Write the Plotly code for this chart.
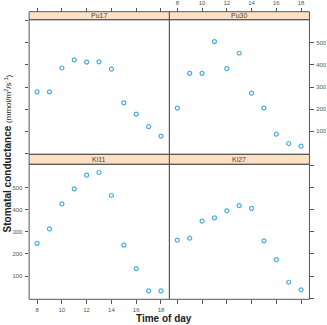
import plotly.graph_objects as go

hours = [8, 9, 10, 11, 12, 13, 14, 15, 16, 17, 18]
panels = ["Pu17", "Pu30", "Ki11", "Ki27"]
pu17 = [278, 278, 386, 423, 413, 414, 381, 228, 177, 120, 77]
pu30 = [204, 362, 362, 506, 383, 453, 272, 204, 86, 44, 32]
ki11 = [248, 313, 426, 494, 556, 568, 464, 240, 134, 33, 33]
ki27 = [262, 271, 348, 363, 395, 418, 406, 259, 174, 72, 38]
xticks = [8, 10, 12, 14, 16, 18]
yticks_all = [0, 100, 200, 300, 400, 500, 600]
yticks_lab = [100, 200, 300, 400, 500]
yticks_end = [0, 600]

W, H = 327, 325
def px(x): return x / W
def py(y): return 1 - y / H

colL, colM, colR = 29.5, 171.5, 313.3
stripT_top, stripB_top = 11.7, 19.7
panelB_top = 154.3
stripB_bot = 164.3
panelB_bot = 299.3

XR = [7.36, 18.68]
YR = [-5, 605]
AX = "#555555"
TICKF = dict(family="Liberation Sans, Arial, sans-serif", size=6, color="#555555")
MC = "#48abe0"

fig = go.Figure()
series = [pu17, pu30, ki11, ki27]
for i, s in enumerate(series):
    fig.add_trace(go.Scatter(
        x=hours, y=s, mode="markers",
        marker=dict(symbol="circle-open", size=4, color=MC, line=dict(width=1.2, color=MC)),
        xaxis="x" if i == 0 else f"x{i+1}", yaxis="y" if i == 0 else f"y{i+1}",
        showlegend=False, hoverinfo="skip"))

xdom = [[px(colL), px(colM)], [px(colM), px(colR)]]
ydom_top = [py(panelB_top), py(stripB_top)]
ydom_bot = [py(panelB_bot), py(stripB_bot)]

def xax(dom, side, labels, anchor, position=None):
    d = dict(domain=dom, range=XR, tickvals=xticks, ticks="outside", ticklen=3.5,
             tickwidth=1, tickcolor=AX, showline=False, showgrid=False, zeroline=False,
             showticklabels=labels, tickfont=TICKF, side=side, ticklabelstandoff=1)
    if position is not None:
        d["anchor"] = "free"
        d["position"] = position
    else:
        d["anchor"] = anchor
    return d

def yax(dom, side, labels, anchor, vals, overlaying=None):
    d = dict(domain=dom, range=YR, tickvals=vals, ticks="outside",
             ticklen=3.5, tickwidth=1, tickcolor=AX, showline=False, showgrid=False,
             zeroline=False, showticklabels=labels, tickfont=TICKF, side=side,
             anchor=anchor, ticklabelstandoff=1)
    if overlaying:
        d["overlaying"] = overlaying
    return d

fig.update_layout(
    width=W, height=H, margin=dict(l=0, r=0, t=0, b=0),
    paper_bgcolor="white", plot_bgcolor="rgba(0,0,0,0)",
    xaxis=xax(xdom[0], "top", False, None, position=py(stripT_top)),
    xaxis2=xax(xdom[1], "top", True, None, position=py(stripT_top)),
    xaxis3=xax(xdom[0], "bottom", True, "y3"),
    xaxis4=xax(xdom[1], "bottom", False, "y4"),
    yaxis=yax(ydom_top, "left", False, "x", yticks_all),
    yaxis2=yax(ydom_top, "right", True, "x2", yticks_lab),
    yaxis3=yax(ydom_bot, "left", True, "x3", yticks_lab),
    yaxis4=yax(ydom_bot, "right", False, "x4", yticks_all),
    yaxis5=yax(ydom_top, "right", False, "x2", yticks_end, overlaying="y2"),
    yaxis6=yax(ydom_bot, "left", False, "x3", yticks_end, overlaying="y3"),
)

shapes = []
for (y0, y1) in [(stripT_top, stripB_top), (panelB_top, stripB_bot)]:
    for (x0, x1) in [(colL, colM), (colM, colR)]:
        shapes.append(dict(type="rect", xref="paper", yref="paper",
                           x0=px(x0), x1=px(x1), y0=py(y1), y1=py(y0),
                           fillcolor="#ffe0c4", line=dict(color=AX, width=1), layer="below"))
for (y0, y1) in [(stripB_top, panelB_top), (stripB_bot, panelB_bot)]:
    for (x0, x1) in [(colL, colM), (colM, colR)]:
        shapes.append(dict(type="rect", xref="paper", yref="paper",
                           x0=px(x0), x1=px(x1), y0=py(y1), y1=py(y0),
                           line=dict(color=AX, width=1), layer="above"))
fig.update_layout(shapes=shapes)

ann = []
strip_pos = [((colL + colM) / 2, (stripT_top + stripB_top) / 2),
             ((colM + colR) / 2, (stripT_top + stripB_top) / 2),
             ((colL + colM) / 2, (panelB_top + stripB_bot) / 2),
             ((colM + colR) / 2, (panelB_top + stripB_bot) / 2)]
for name, (x, y) in zip(panels, strip_pos):
    ann.append(dict(text=name, x=px(x), y=py(y), xref="paper", yref="paper",
                    showarrow=False, xanchor="center", yanchor="middle",
                    font=dict(family="Liberation Sans, Arial, sans-serif", size=7, color="#444444")))
ann.append(dict(text="<b>Time of day</b>", x=px(166), y=py(318.5), xref="paper", yref="paper",
                showarrow=False, xanchor="center", yanchor="middle",
                font=dict(family="Liberation Sans, Arial, sans-serif", size=10, color="#222222")))
ann.append(dict(text="<b>Stomatal conductance</b> <span style='font-size:8px'>(mmol/m<sup>2</sup>/s<sup>-1</sup>)</span>",
                x=px(7.5), y=py(153), xref="paper", yref="paper", textangle=-90,
                showarrow=False, xanchor="center", yanchor="middle",
                font=dict(family="Liberation Sans, Arial, sans-serif", size=10, color="#222222")))
fig.update_layout(annotations=ann)

fig.write_html("out.html")
